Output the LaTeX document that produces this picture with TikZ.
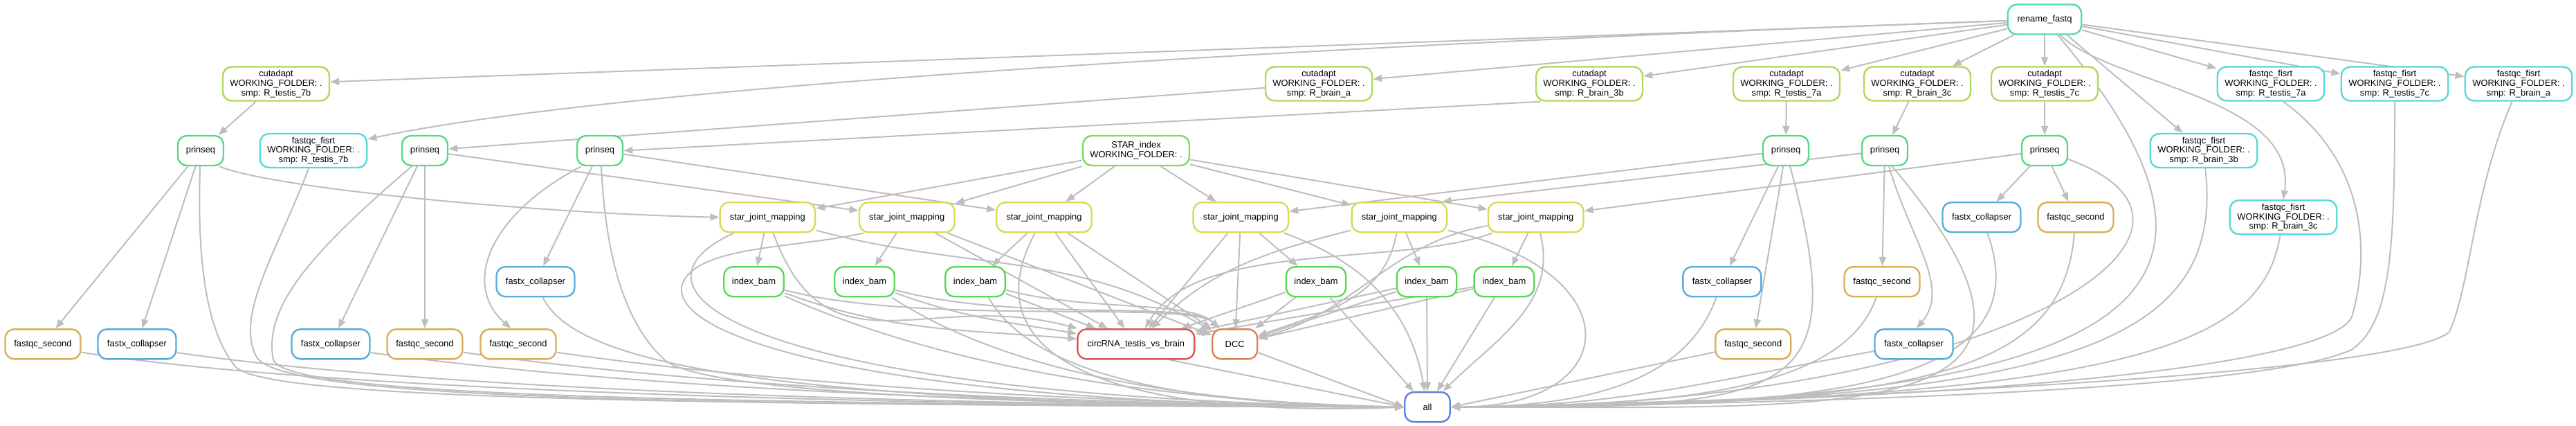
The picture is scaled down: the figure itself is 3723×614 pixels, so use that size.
\documentclass[tikz,border=0pt]{standalone}
\usepackage{fontspec}
\setmainfont{Liberation Sans}
\usetikzlibrary{arrows.meta}
\pgfdeclarelayer{edges}
\pgfsetlayers{edges,main}
\definecolor{cRename}{RGB}{87,217,174}
\definecolor{cCut}{RGB}{174,217,87}
\definecolor{cFqf}{RGB}{87,217,217}
\definecolor{cPrin}{RGB}{87,217,130}
\definecolor{cFxc}{RGB}{87,174,217}
\definecolor{cFqs}{RGB}{217,174,87}
\definecolor{cStar}{RGB}{130,217,87}
\definecolor{cSjm}{RGB}{217,217,87}
\definecolor{cIdx}{RGB}{87,217,87}
\definecolor{cCirc}{RGB}{217,87,87}
\definecolor{cDcc}{RGB}{217,130,87}
\definecolor{cAll}{RGB}{87,130,217}
\definecolor{edgegray}{RGB}{190,190,190}

\begin{document}
\begin{tikzpicture}[x=1pt,y=1pt,
    job/.style={draw,fill=white,rounded corners=13pt,line width=2.4pt,
      minimum height=43pt,inner xsep=4pt,inner ysep=4.7pt,align=center,
      font=\fontsize{12.9}{13.8}\selectfont},
    renamebox/.style={job,draw=cRename,minimum width=106.5pt},
    cutbox/.style={job,draw=cCut,minimum width=154pt},
    fqfbox/.style={job,draw=cFqf,minimum width=154.5pt},
    prinbox/.style={job,draw=cPrin,minimum width=66pt},
    fxcbox/.style={job,draw=cFxc,minimum width=113pt},
    fqsbox/.style={job,draw=cFqs,minimum width=109pt},
    starbox/.style={job,draw=cStar,minimum width=154pt},
    sjmbox/.style={job,draw=cSjm,minimum width=137.5pt},
    idxbox/.style={job,draw=cIdx,minimum width=86.5pt},
    circbox/.style={job,draw=cCirc,minimum width=169pt},
    dccbox/.style={job,draw=cDcc,minimum width=65pt},
    allbox/.style={job,draw=cAll,minimum width=65.5pt},
    dep/.style={draw=edgegray,line width=2pt,-{Triangle[length=13pt,width=10pt]}}]
\useasboundingbox (0,0) rectangle (3723,614);

\node[renamebox] (rename) at (2955,586) {rename\_fastq};

\node[cutbox] (cut7b) at (399,493) {cutadapt\\WORKING\_FOLDER: .\\smp: R\_testis\_7b};
\node[cutbox] (cutBa) at (1906,493) {cutadapt\\WORKING\_FOLDER: .\\smp: R\_brain\_a};
\node[cutbox] (cut3b) at (2297,493) {cutadapt\\WORKING\_FOLDER: .\\smp: R\_brain\_3b};
\node[cutbox] (cut7a) at (2582,493) {cutadapt\\WORKING\_FOLDER: .\\smp: R\_testis\_7a};
\node[cutbox] (cut3c) at (2771,493) {cutadapt\\WORKING\_FOLDER: .\\smp: R\_brain\_3c};
\node[cutbox] (cut7c) at (2955,493) {cutadapt\\WORKING\_FOLDER: .\\smp: R\_testis\_7c};
\node[fqfbox] (fqf7a) at (3282,493) {fastqc\_fisrt\\WORKING\_FOLDER: .\\smp: R\_testis\_7a};
\node[fqfbox] (fqf7c) at (3461,493) {fastqc\_fisrt\\WORKING\_FOLDER: .\\smp: R\_testis\_7c};
\node[fqfbox] (fqfBa) at (3640,493) {fastqc\_fisrt\\WORKING\_FOLDER: .\\smp: R\_brain\_a};

\node[prinbox] (ps7b) at (290,396.5) {prinseq};
\node[fqfbox] (fqf7b) at (453,396.5) {fastqc\_fisrt\\WORKING\_FOLDER: .\\smp: R\_testis\_7b};
\node[prinbox] (psBa) at (614,396.5) {prinseq};
\node[prinbox] (ps3b) at (867,396.5) {prinseq};
\node[starbox] (star) at (1642,396.5) {STAR\_index\\WORKING\_FOLDER: .};
\node[prinbox] (ps7a) at (2581,396.5) {prinseq};
\node[prinbox] (ps3c) at (2724,396.5) {prinseq};
\node[prinbox] (ps7c) at (2955,396.5) {prinseq};
\node[fqfbox] (fqf3b) at (3185,396.5) {fastqc\_fisrt\\WORKING\_FOLDER: .\\smp: R\_brain\_3b};

\node[sjmbox] (sjm7b) at (1109.3,300.3) {star\_joint\_mapping};
\node[sjmbox] (sjmBa) at (1310.7,300.3) {star\_joint\_mapping};
\node[sjmbox] (sjm3b) at (1509,300.3) {star\_joint\_mapping};
\node[sjmbox] (sjm7a) at (1793.3,300.3) {star\_joint\_mapping};
\node[sjmbox] (sjm3c) at (2022.3,300.3) {star\_joint\_mapping};
\node[sjmbox] (sjm7c) at (2219.7,300.3) {star\_joint\_mapping};
\node[fxcbox] (fxc7c) at (2864,300.3) {fastx\_collapser};
\node[fqsbox] (fqs7c) at (3000,300.3) {fastqc\_second};
\node[fqfbox] (fqf3c) at (3300,300.3) {fastqc\_fisrt\\WORKING\_FOLDER: .\\smp: R\_brain\_3c};

\node[fxcbox] (fxc3b) at (774,207.3) {fastx\_collapser};
\node[idxbox] (ib7b) at (1089.5,207.3) {index\_bam};
\node[idxbox] (ibBa) at (1249.5,207.3) {index\_bam};
\node[idxbox] (ib3b) at (1409.5,207.3) {index\_bam};
\node[idxbox] (ib7a) at (1902,207.3) {index\_bam};
\node[idxbox] (ib3c) at (2062,207.3) {index\_bam};
\node[idxbox] (ib7c) at (2173.8,207.3) {index\_bam};
\node[fxcbox] (fxc7a) at (2488.8,207.3) {fastx\_collapser};
\node[fqsbox] (fqs3c) at (2720,207.3) {fastqc\_second};

\node[fqsbox] (fqs7b) at (62,117.2) {fastqc\_second};
\node[fxcbox] (fxc7b) at (198,117.2) {fastx\_collapser};
\node[fxcbox] (fxcBa) at (478,117.2) {fastx\_collapser};
\node[fqsbox] (fqsBa) at (614,117.2) {fastqc\_second};
\node[fqsbox] (fqs3b) at (749,117.2) {fastqc\_second};
\node[circbox] (circ) at (1641.8,117.2) {circRNA\_testis\_vs\_brain};
\node[dccbox] (dcc) at (1784.7,117.2) {DCC};
\node[fqsbox] (fqs7a) at (2533.7,117.2) {fastqc\_second};
\node[fxcbox] (fxc3c) at (2766,117.2) {fastx\_collapser};

\node[allbox] (all) at (2063,26.4) {all};

\begin{pgfonlayer}{edges}
\foreach \tgt in {cut7b,cutBa,cut3b,cut7a,cut3c,cut7c,fqf7a,fqf7c,fqfBa}
  \draw[dep] (rename) -- (\tgt);
\draw[dep] (rename.182) .. controls (2434,568) and (986,510) .. (fqf7b.12);
\draw[dep] (rename.-35) -- (fqf3b);
\draw[dep] (rename.-45) .. controls (3049,492) and (3322,475) .. (fqf3c.north);
\draw[dep] (rename.-50) .. controls (3295,180) and (3097,26) .. (all.east);

\draw[dep] (cut7b) -- (ps7b);
\draw[dep] (cutBa) -- (psBa);
\draw[dep] (cut3b.200) -- (ps3b.east);
\draw[dep] (cut7a) -- (ps7a);
\draw[dep] (cut3c) -- (ps3c);
\draw[dep] (cut7c) -- (ps7c);

\foreach \tgt in {sjm7b,sjmBa,sjm3b,sjm7a,sjm3c,sjm7c}
  \draw[dep] (star) -- (\tgt);

\draw[dep] (ps7b) -- (fqs7b);
\draw[dep] (ps7b) -- (fxc7b);
\draw[dep] (ps7b.-40) .. controls (400,340) and (800,305) .. (sjm7b.west);
\draw[dep] (psBa) -- (fxcBa);
\draw[dep] (psBa) -- (fqsBa);
\draw[dep] (psBa) -- (sjmBa);
\draw[dep] (ps3b) -- (fxc3b);
\draw[dep] (ps3b.-140) .. controls (700,300) and (670,200) .. (fqs3b.115);
\draw[dep] (ps3b) -- (sjm3b);
\draw[dep] (ps7a) -- (fxc7a);
\draw[dep] (ps7a) -- (fqs7a);
\draw[dep] (ps7a) -- (sjm7a);
\draw[dep] (ps3c) -- (fqs3c);
\draw[dep] (ps3c.-75) .. controls (2760,270) and (2820,200) .. (fxc3c.80);
\draw[dep] (ps3c) -- (sjm3c.20);
\draw[dep] (ps7c) -- (fxc7c);
\draw[dep] (ps7c) -- (fqs7c);
\draw[dep] (ps7c) -- (sjm7c);

\draw[dep] (sjm7b) -- (ib7b);
\draw[dep] (sjmBa) -- (ibBa);
\draw[dep] (sjm3b) -- (ib3b);
\draw[dep] (sjm7a) -- (ib7a);
\draw[dep] (sjm3c) -- (ib3c);
\draw[dep] (sjm7c) -- (ib7c);

\draw[dep] (sjm7b.-70) .. controls (1195,65) and (1338,198) .. (circ.165);
\draw[dep] (sjm7b.-15) .. controls (1406,221) and (1548,253) .. (dcc.150);
\draw[dep] (sjmBa) -- (circ);
\draw[dep] (sjmBa) -- (dcc);
\draw[dep] (sjm3b) -- (circ);
\draw[dep] (sjm3b) -- (dcc);
\draw[dep] (sjm7a) -- (circ);
\draw[dep] (sjm7a) -- (dcc);
\draw[dep] (sjm3c.195) .. controls (1833,251) and (1753,227) .. (circ.45);
\draw[dep] (sjm3c.-100) .. controls (2002,182) and (1911,162) .. (dcc.20);
\draw[dep] (sjm7c.200) .. controls (2016,227) and (1730,269) .. (circ.60);
\draw[dep] (sjm7c.-170) .. controls (2009,264) and (1958,162) .. (dcc.15);
\draw[dep] (ib7b.-20) .. controls (1291,134) and (1389,139) .. (circ.175);
\draw[dep] (ib7b.-15) .. controls (1327,143) and (1720,181) .. (dcc.135);
\draw[dep] (ibBa.-20) .. controls (1394,155) and (1451,150) .. (circ.170);
\draw[dep] (ibBa.-15) .. controls (1468,148) and (1720,181) .. (dcc.135);
\draw[dep] (ib3b) -- (circ);
\draw[dep] (ib3b.-15) .. controls (1570,164) and (1720,181) .. (dcc.135);
\foreach \src in {ib7a,ib3c,ib7c} {
  \draw[dep] (\src) -- (circ);
  \draw[dep] (\src) -- (dcc);
}

\draw[dep] (fqs7b.-12) .. controls (500,45) and (1400,28) .. (all.west);
\draw[dep] (fxc7b.-12) .. controls (650,48) and (1400,29) .. (all.west);
\draw[dep] (fxcBa.-12) .. controls (900,55) and (1450,30) .. (all.west);
\draw[dep] (fqsBa.-12) .. controls (1000,58) and (1500,31) .. (all.west);
\draw[dep] (fqs3b.-12) .. controls (1100,62) and (1550,32) .. (all.west);
\draw[dep] (ps7b.-92) .. controls (285,250) and (295,140) .. (340,85) .. controls (380,40) and (900,30) .. (all.west);
\draw[dep] (fqf7b.-105) .. controls (400,250) and (340,160) .. (370,100) .. controls (400,40) and (900,30) .. (all.west);
\draw[dep] (psBa.-130) .. controls (450,250) and (380,170) .. (395,95) .. controls (410,45) and (900,32) .. (all.west);
\draw[dep] (ps3b.-85) .. controls (875,250) and (900,150) .. (960,95) .. controls (1010,50) and (1400,30) .. (all.west);
\draw[dep] (fxc3b.-65) .. controls (830,90) and (1100,30) .. (all.west);
\draw[dep] (sjm7b.-155) .. controls (870,190) and (1100,40) .. (all.west);
\draw[dep] (sjmBa.200) .. controls (1150,255) and (1000,260) .. (985,200) .. controls (975,120) and (1300,30) .. (all.west);
\draw[dep] (sjm3b.-120) .. controls (1400,100) and (1600,10) .. (all.west);
\draw[dep] (ib7b.-25) .. controls (1350,90) and (1650,35) .. (all.west);
\draw[dep] (ibBa.-30) .. controls (1450,80) and (1700,32) .. (all.west);
\draw[dep] (ib3b.-50) .. controls (1500,60) and (1750,30) .. (all.west);
\draw[dep] (circ.-25) -- (all.west);
\draw[dep] (dcc.-20) -- (all.west);

\draw[dep] (ib7a) -- (all);
\draw[dep] (ib3c) -- (all);
\draw[dep] (ib7c) -- (all);
\draw[dep] (sjm7a.-20) .. controls (1969,237) and (2038,168) .. (all.100);
\draw[dep] (sjm7c.-75) .. controls (2253,176) and (2160,123) .. (all.45);

\draw[dep] (sjm3c.-15) .. controls (2363,220) and (2347,26) .. (all.east);
\draw[dep] (fxc7a.-110) .. controls (2446,90) and (2347,26) .. (all.east);
\draw[dep] (fqs7a) -- (all.east);
\draw[dep] (ps7a.-75) .. controls (2678,36) and (2597,26) .. (all.east);
\draw[dep] (fqs3c.-110) .. controls (2671,71) and (2497,26) .. (all.east);
\draw[dep] (ps3c.-65) .. controls (3050,0) and (2700,26) .. (all.east);
\draw[dep] (fxc3c.190) .. controls (2474,64) and (2336,26) .. (all.east);
\draw[dep] (fxc7c.-70) .. controls (2957,43) and (2597,26) .. (all.east);
\draw[dep] (fqs7c.-95) .. controls (2981,79) and (2797,26) .. (all.east);
\draw[dep] (ps7c.-20) .. controls (3271,282) and (2897,26) .. (all.east);
\draw[dep] (fqf3b.-85) .. controls (3215,120) and (3000,30) .. (all.east);
\draw[dep] (fqf3c.-100) .. controls (3270,120) and (3100,35) .. (all.east);
\draw[dep] (fqf7a.-55) .. controls (3420,380) and (3425,250) .. (3400,160) .. controls (3385,90) and (2900,35) .. (all.east);
\draw[dep] (fqf7c.south) .. controls (3461,250) and (3455,150) .. (3400,110) .. controls (3300,60) and (2800,33) .. (all.east);
\draw[dep] (fqfBa.-110) .. controls (3575,340) and (3570,200) .. (3540,135) .. controls (3480,80) and (2800,40) .. (all.east);
\end{pgfonlayer}
\end{tikzpicture}
\end{document}
